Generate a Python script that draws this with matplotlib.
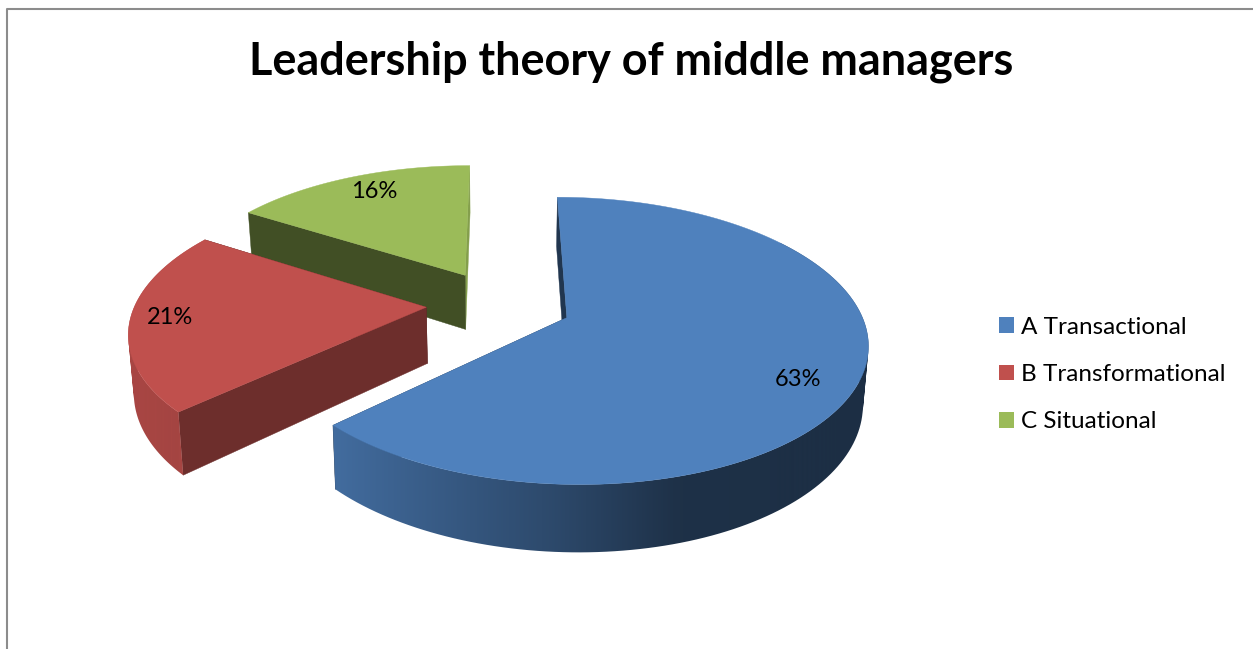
import numpy as np
import matplotlib
matplotlib.use('Agg')
import matplotlib.pyplot as plt
from matplotlib.patches import Patch
from matplotlib.path import Path

plt.rcParams['font.family'] = ['Lato', 'DejaVu Sans']

title = "Leadership theory of middle managers"
categories = ["A Transactional", "B Transformational", "C Situational"]
values = [63, 21, 16]
colors = ["#4f81bd", "#c0504d", "#9bbb59"]
label_pos = [(798, 380), (170, 318), (374, 192)]

# projection of the tilted pie, fitted to the picture
cx, cy = 499, 304
rx, ry = 291, 135.5
persp = 0.159
explode = 0.25
depth = 56
shrink = 0.985


def project(u, v, down=False):
    s = 1 / (1 - persp * v)
    x = cx + rx * u * s
    y = cy + ry * v * s
    if down:
        x = cx + (x - cx) * shrink
        y = y + depth * s
    return x, y


def shade(c, f):
    rgb = np.array(matplotlib.colors.to_rgb(c))
    return tuple(rgb * f)


def quad(x0, y0, x1, y1, x2, y2, x3, y3):
    # same winding for every quad so that the union stays filled
    pts = np.array([[x0, y0], [x1, y1], [x2, y2], [x3, y3]])
    area = np.sum(pts[:, 0] * np.roll(pts[:, 1], -1) - np.roll(pts[:, 0], -1) * pts[:, 1])
    if area < 0:
        pts = pts[::-1]
    return Path(np.vstack([pts, pts[0]]), closed=True)


fig = plt.figure(figsize=(12.53, 6.49), dpi=100)
ax = fig.add_axes([0, 0, 1, 1])
ax.axis('off')

ax.plot([7, 7, 1253], [649, 9, 9], color='#8c8c8c', lw=1.5)

shares = np.array(values) / sum(values) * 2 * np.pi
ends = np.cumsum(shares)
starts = ends - shares

# back slices first so blue ends up on top
z = 2
for i in [2, 1, 0]:
    c = colors[i]
    a0, a1 = starts[i], ends[i]
    mid = (a0 + a1) / 2
    ou, ov = explode * np.sin(mid), -explode * np.cos(mid)
    ang = np.linspace(a0, a1, 160)
    u = ou + np.sin(ang)
    v = ov - np.cos(ang)

    # cut walls
    for a, f in [(a1, 0.85 if i == 2 else 0.4), (a0, 0.42 if i == 2 else 0.57)]:
        eu, ev = ou + np.sin(a), ov - np.cos(a)
        xt, yt = project(np.array([ou, eu]), np.array([ov, ev]))
        xb, yb = project(np.array([ou, eu]), np.array([ov, ev]), down=True)
        if i == 0:
            f = 0.42
        ax.fill(list(xt) + list(xb[::-1]), list(yt) + list(yb[::-1]),
                color=shade(c, f), lw=0.3, zorder=z)
        z += 1

    # outer wall, gradient image clipped to the swept wall outline
    front = v > ov - 0.6
    if i != 2:
        xt, yt = project(u[front], v[front])
        xb, yb = project(u[front], v[front], down=True)
        fs = np.interp(np.sin(ang[front]), [-1, -0.73, -0.08, 0.28, 1],
                       [0.88, 0.84, 0.57, 0.38, 0.36])
        grid = np.linspace(xt.min() - 8, xt.max() + 8, 600)
        order = np.argsort(xt)
        f_grid = np.interp(grid, xt[order], fs[order])
        img = (np.array(matplotlib.colors.to_rgb(c))[None, None, :] * f_grid[None, :, None])
        im = ax.imshow(img, extent=(grid[0], grid[-1], max(yb.max(), yt.max()) + 2,
                                    min(yb.min(), yt.min()) - 2),
                       aspect='auto', interpolation='bilinear', zorder=z)
        quads = [quad(xt[j], yt[j], xt[j + 1], yt[j + 1], xb[j + 1], yb[j + 1], xb[j], yb[j])
                 for j in range(len(xt) - 1)]
        im.set_clip_path(Path.make_compound_path(*quads), transform=ax.transData)
        z += 1

    # top face
    x, y = project(np.r_[ou, u], np.r_[ov, v])
    ax.fill(x, y, color=c, lw=0.3, zorder=z)
    z += 1

ax.set_xlim(0, 1253)
ax.set_ylim(649, 0)

for val, (lx, ly) in zip(values, label_pos):
    ax.text(lx, ly, f"{val}%", ha='center', va='center', fontsize=17, color='black', zorder=z)

ax.text(631, 62, title, ha='center', va='center', fontsize=32.4, fontweight='bold', color='black')

handles = [Patch(facecolor=c, edgecolor='none') for c in colors]
ax.legend(handles, categories, loc='center left', bbox_to_anchor=(999, 374.5),
          bbox_transform=ax.transData, frameon=False, fontsize=17.5, borderpad=0,
          borderaxespad=0, handlelength=0.62, handleheight=0.62, handletextpad=0.3,
          labelspacing=1.09, labelcolor='black')

fig.savefig('out.png', dpi=100)
